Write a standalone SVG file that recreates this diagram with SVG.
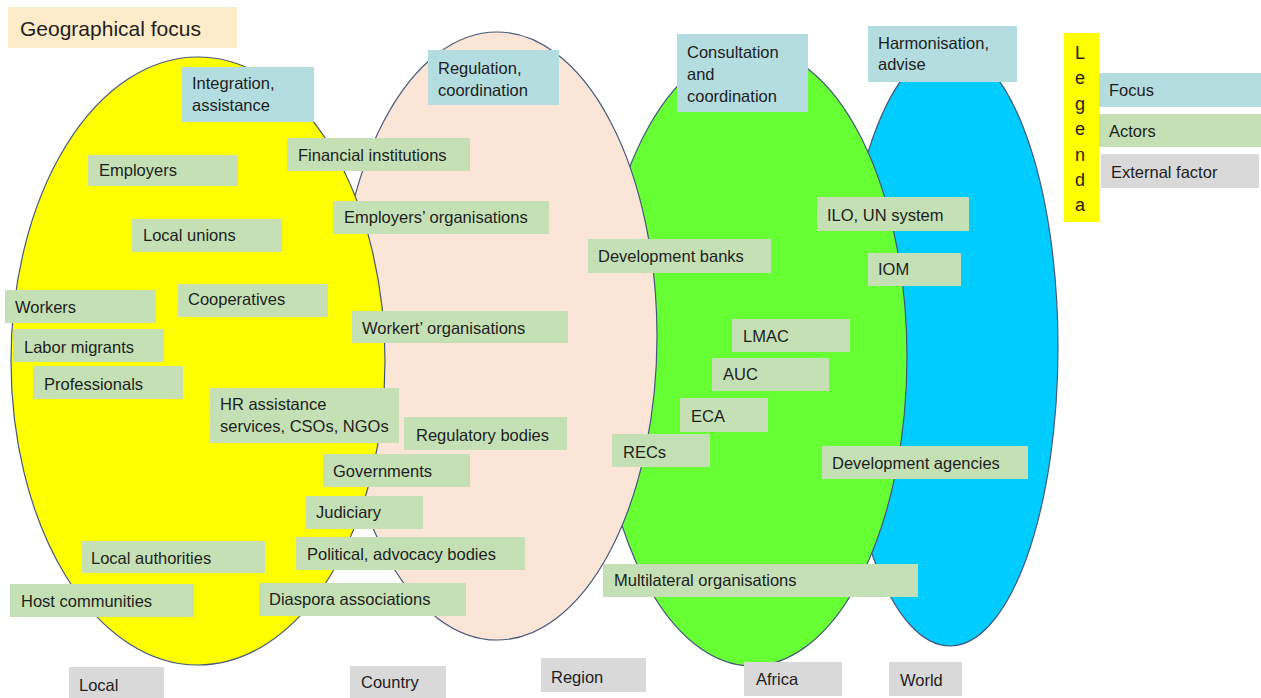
<svg xmlns="http://www.w3.org/2000/svg" width="1261" height="698" viewBox="0 0 1261 698">
  <style>
    text { font-family: "Liberation Sans", Arial, sans-serif; font-size: 16.5px; fill: #1e1e1e; }
    .zone { stroke: #44587c; stroke-width: 1.2; }
    .focus rect { fill: #b4dde0; }
    .actor rect { fill: #c5e0b4; }
    .ext rect { fill: #d9d9d9; }
    .title rect { fill: #fdebca; }
    .title text { font-size: 21px; }
    .legend-bar rect { fill: #ffff00; }
    .legend-bar text { font-size: 18px; text-anchor: middle; }
  </style>

  <!-- geographic zones, widest scope at the back -->
  <g id="zones">
    <ellipse id="zone-world" class="zone" cx="950" cy="347" rx="108" ry="299" fill="#00ccff"/>
    <ellipse id="zone-africa" class="zone" cx="752" cy="357" rx="155" ry="309" fill="#66ff33"/>
    <ellipse id="zone-country" class="zone" cx="497" cy="336" rx="160" ry="304" fill="#fbe5d6"/>
    <ellipse id="zone-local" class="zone" cx="198" cy="361" rx="187" ry="304" fill="#ffff00"/>
  </g>

  <g id="title" class="title">
    <rect x="8" y="7" width="229" height="41"/>
    <text x="20" y="36">Geographical focus</text>
  </g>

  <!-- focus labels -->
  <g id="focus-integration" class="focus">
    <rect x="182" y="67" width="132" height="55"/>
    <text x="192" y="89">Integration,</text>
    <text x="192" y="111">assistance</text>
  </g>
  <g id="focus-regulation" class="focus">
    <rect x="428" y="50" width="131" height="55"/>
    <text x="438" y="74">Regulation,</text>
    <text x="438" y="96">coordination</text>
  </g>
  <g id="focus-consultation" class="focus">
    <rect x="677" y="34" width="131" height="78"/>
    <text x="687" y="58">Consultation</text>
    <text x="687" y="80">and</text>
    <text x="687" y="102">coordination</text>
  </g>
  <g id="focus-harmonisation" class="focus">
    <rect x="868" y="26" width="149" height="56"/>
    <text x="878" y="49">Harmonisation,</text>
    <text x="878" y="70">advise</text>
  </g>

  <!-- actors -->
  <g id="actor-employers" class="actor">
    <rect x="88" y="155" width="150" height="31"/>
    <text x="99" y="176">Employers</text>
  </g>
  <g id="actor-local-unions" class="actor">
    <rect x="132" y="219" width="150" height="33"/>
    <text x="143" y="241">Local unions</text>
  </g>
  <g id="actor-financial" class="actor">
    <rect x="287" y="138" width="183" height="33"/>
    <text x="298" y="161">Financial institutions</text>
  </g>
  <g id="actor-employers-orgs" class="actor">
    <rect x="333" y="201" width="216" height="33"/>
    <text x="344" y="223">Employers’ organisations</text>
  </g>
  <g id="actor-workers-orgs" class="actor">
    <rect x="352" y="311" width="216" height="32"/>
    <text x="362" y="334">Workert’ organisations</text>
  </g>
  <g id="actor-workers" class="actor">
    <rect x="5" y="290" width="151" height="33"/>
    <text x="15" y="313">Workers</text>
  </g>
  <g id="actor-cooperatives" class="actor">
    <rect x="178" y="284" width="150" height="33"/>
    <text x="188" y="305">Cooperatives</text>
  </g>
  <g id="actor-labor-migrants" class="actor">
    <rect x="13" y="329" width="151" height="33"/>
    <text x="24" y="353">Labor migrants</text>
  </g>
  <g id="actor-professionals" class="actor">
    <rect x="33" y="366" width="150" height="33"/>
    <text x="44" y="390">Professionals</text>
  </g>
  <g id="actor-hr" class="actor">
    <rect x="210" y="388" width="189" height="55"/>
    <text x="220" y="410">HR assistance</text>
    <text x="220" y="432">services, CSOs, NGOs</text>
  </g>
  <g id="actor-regulatory" class="actor">
    <rect x="404" y="417" width="163" height="33"/>
    <text x="416" y="441">Regulatory bodies</text>
  </g>
  <g id="actor-governments" class="actor">
    <rect x="323" y="454" width="147" height="33"/>
    <text x="333" y="477">Governments</text>
  </g>
  <g id="actor-judiciary" class="actor">
    <rect x="306" y="496" width="117" height="33"/>
    <text x="316" y="518">Judiciary</text>
  </g>
  <g id="actor-political" class="actor">
    <rect x="296" y="537" width="229" height="33"/>
    <text x="307" y="560">Political, advocacy bodies</text>
  </g>
  <g id="actor-local-authorities" class="actor">
    <rect x="82" y="541" width="183" height="32"/>
    <text x="91" y="564">Local authorities</text>
  </g>
  <g id="actor-host-communities" class="actor">
    <rect x="10" y="584" width="184" height="33"/>
    <text x="21" y="607">Host communities</text>
  </g>
  <g id="actor-diaspora" class="actor">
    <rect x="259" y="583" width="207" height="33"/>
    <text x="269" y="605">Diaspora associations</text>
  </g>
  <g id="actor-dev-banks" class="actor">
    <rect x="588" y="239" width="183" height="34"/>
    <text x="598" y="262">Development banks</text>
  </g>
  <g id="actor-lmac" class="actor">
    <rect x="732" y="319" width="118" height="33"/>
    <text x="743" y="342">LMAC</text>
  </g>
  <g id="actor-auc" class="actor">
    <rect x="712" y="358" width="117" height="33"/>
    <text x="723" y="380">AUC</text>
  </g>
  <g id="actor-eca" class="actor">
    <rect x="680" y="398" width="88" height="34"/>
    <text x="691" y="422">ECA</text>
  </g>
  <g id="actor-recs" class="actor">
    <rect x="612" y="434" width="98" height="33"/>
    <text x="623" y="458">RECs</text>
  </g>
  <g id="actor-ilo" class="actor">
    <rect x="817" y="197" width="152" height="34"/>
    <text x="827" y="221">ILO, UN system</text>
  </g>
  <g id="actor-iom" class="actor">
    <rect x="868" y="253" width="93" height="33"/>
    <text x="878" y="275">IOM</text>
  </g>
  <g id="actor-dev-agencies" class="actor">
    <rect x="822" y="446" width="206" height="33"/>
    <text x="832" y="469">Development agencies</text>
  </g>
  <g id="actor-multilateral" class="actor">
    <rect x="603" y="564" width="315" height="33"/>
    <text x="614" y="586">Multilateral organisations</text>
  </g>

  <!-- scope labels along the bottom -->
  <g id="scope-local" class="ext">
    <rect x="69" y="667" width="95" height="31"/>
    <text x="79" y="691">Local</text>
  </g>
  <g id="scope-country" class="ext">
    <rect x="350" y="666" width="96" height="32"/>
    <text x="361" y="688">Country</text>
  </g>
  <g id="scope-region" class="ext">
    <rect x="541" y="658" width="105" height="34"/>
    <text x="551" y="683">Region</text>
  </g>
  <g id="scope-africa" class="ext">
    <rect x="744" y="662" width="98" height="34"/>
    <text x="756" y="685">Africa</text>
  </g>
  <g id="scope-world" class="ext">
    <rect x="889" y="662" width="73" height="34"/>
    <text x="900" y="686">World</text>
  </g>

  <!-- legend -->
  <g id="legend-bar" class="legend-bar">
    <rect x="1064" y="33" width="35" height="189"/>
    <text x="1080" y="59">L</text>
    <text x="1080" y="84">e</text>
    <text x="1080" y="110">g</text>
    <text x="1080" y="135">e</text>
    <text x="1080" y="161">n</text>
    <text x="1080" y="186">d</text>
    <text x="1080" y="211">a</text>
  </g>
  <g id="legend-focus" class="focus">
    <rect x="1099" y="73" width="162" height="34"/>
    <text x="1109" y="96">Focus</text>
  </g>
  <g id="legend-actors" class="actor">
    <rect x="1099" y="114" width="162" height="33"/>
    <text x="1109" y="137">Actors</text>
  </g>
  <g id="legend-external" class="ext">
    <rect x="1101" y="154" width="158" height="34"/>
    <text x="1111" y="178">External factor</text>
  </g>
</svg>
